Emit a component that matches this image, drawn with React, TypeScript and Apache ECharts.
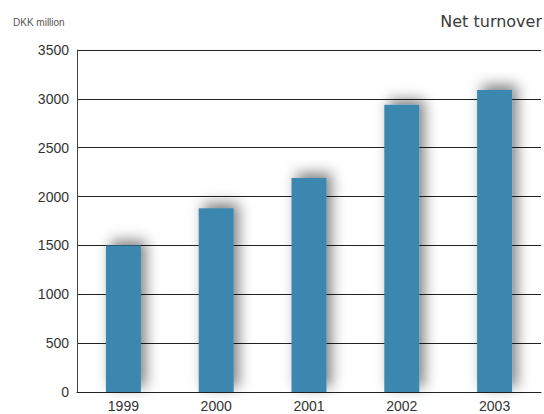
import React, { useEffect, useRef } from "react";
import * as echarts from "echarts";

const years = ["1999", "2000", "2001", "2002", "2003"];
const turnover = [1500, 1880, 2190, 2940, 3090];
const yTicks = { min: 0, max: 3500, interval: 500 };

export default function App() {
  const ref = useRef<HTMLDivElement>(null);

  useEffect(() => {
    if (!ref.current) return;
    const chart = echarts.init(ref.current, null, { renderer: "svg" });
    chart.setOption({
      animation: false,
      backgroundColor: "#ffffff",
      grid: { left: 77, right: 3, top: 50, bottom: 22 },
      graphic: [
        {
          type: "text",
          left: 13,
          top: 17,
          style: {
            text: "DKK million",
            fill: "#555555",
            font: "10px 'Liberation Sans', Arial, sans-serif",
          },
        },
        {
          type: "text",
          right: 2,
          top: 13,
          style: {
            text: "Net turnover",
            fill: "#3a3a3a",
            font: "16px 'DejaVu Sans', sans-serif",
          },
        },
      ],
      xAxis: {
        type: "category",
        data: years,
        axisLine: { lineStyle: { color: "#222222", width: 1 } },
        axisTick: { show: false },
        axisLabel: {
          color: "#333333",
          fontSize: 14,
          fontFamily: "'Liberation Sans', Arial, sans-serif",
          margin: 7,
        },
      },
      yAxis: {
        type: "value",
        min: yTicks.min,
        max: yTicks.max,
        interval: yTicks.interval,
        axisLine: { show: true, lineStyle: { color: "#444444", width: 1 } },
        axisTick: { show: false },
        splitLine: { lineStyle: { color: "#222222", width: 1 } },
        axisLabel: {
          color: "#333333",
          fontSize: 14,
          fontFamily: "'Liberation Sans', Arial, sans-serif",
          margin: 8,
          formatter: (v: number) => String(v),
        },
      },
      series: [
        {
          type: "bar",
          data: turnover,
          barWidth: 35,
          itemStyle: {
            color: "#3B87B0",
            shadowColor: "rgba(0,0,0,0.5)",
            shadowBlur: 14,
            shadowOffsetX: 5,
            shadowOffsetY: -5,
          },
        },
      ],
    });
    return () => chart.dispose();
  }, []);

  return (
    <div
      ref={ref}
      style={{ position: "fixed", left: 0, top: 0, width: 544, height: 414 }}
    />
  );
}
